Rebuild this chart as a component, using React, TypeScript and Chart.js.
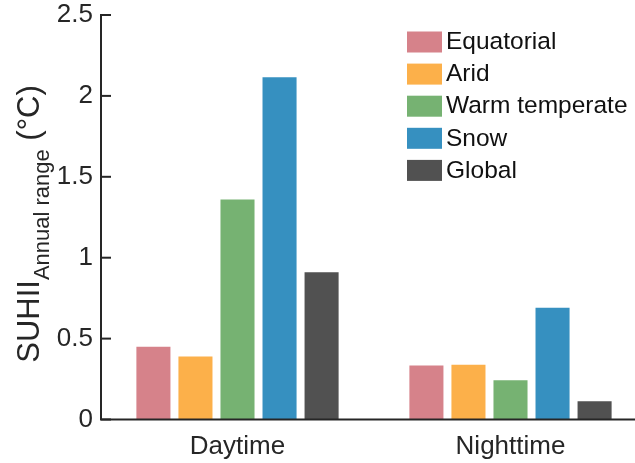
import React, { useEffect, useRef } from "react";
import { Chart, registerables } from "chart.js";

Chart.register(...registerables);

const categories = ["Daytime", "Nighttime"];
const seriesNames = ["Equatorial", "Arid", "Warm temperate", "Snow", "Global"];
const equatorial = [0.45, 0.333];
const arid = [0.39, 0.338];
const warmTemperate = [1.36, 0.243];
const snow = [2.115, 0.69];
const globalVals = [0.91, 0.113];
const seriesColors = ["#d6828a", "#fcb04a", "#76b272", "#3690c0", "#515151"];
const yTickValues = [0, 0.5, 1, 1.5, 2, 2.5];
const yTickLabels = ["0", "0.5", "1", "1.5", "2", "2.5"];

const FONT = "'Liberation Sans', Arial, Helvetica, sans-serif";
const INK = "#262626";

const axesPlugin = {
  id: "matlabAxes",
  afterDatasetsDraw(chart: any) {
    const { ctx, chartArea, scales } = chart;
    const y = scales.y;
    ctx.save();
    ctx.strokeStyle = INK;
    ctx.lineWidth = 2;
    ctx.beginPath();
    ctx.moveTo(chartArea.left, chartArea.top - 1);
    ctx.lineTo(chartArea.left, chartArea.bottom);
    ctx.lineTo(chart.width, chartArea.bottom);
    ctx.stroke();
    y.ticks.forEach((t: any) => {
      const py = y.getPixelForValue(t.value);
      ctx.beginPath();
      ctx.moveTo(chartArea.left, py);
      ctx.lineTo(chartArea.left + 10, py);
      ctx.stroke();
    });
    ctx.restore();
  },
};

const legendPlugin = {
  id: "boxLegend",
  afterDraw(chart: any) {
    const { ctx } = chart;
    ctx.save();
    ctx.font = `24.5px ${FONT}`;
    ctx.textBaseline = "middle";
    ctx.textAlign = "left";
    chart.data.datasets.forEach((ds: any, i: number) => {
      const top = 31.5 + i * 32.1;
      ctx.fillStyle = ds.backgroundColor;
      ctx.fillRect(407, top, 35, 21);
      ctx.fillStyle = "#111";
      ctx.fillText(ds.label, 446, top + 11);
    });
    ctx.restore();
  },
};

const titlePlugin = {
  id: "subTitle",
  afterDraw(chart: any) {
    const { ctx } = chart;
    const main = "SUHII";
    const sub = "Annual range";
    const unit = " (°C)";
    ctx.save();
    ctx.fillStyle = INK;
    ctx.textBaseline = "alphabetic";
    ctx.textAlign = "left";
    ctx.font = `31px ${FONT}`;
    const w1 = ctx.measureText(main).width;
    const w3 = ctx.measureText(unit).width;
    ctx.font = `22px ${FONT}`;
    const w2 = ctx.measureText(sub).width;
    const total = w1 + w2 + w3;
    ctx.translate(39, 224);
    ctx.rotate(-Math.PI / 2);
    const x0 = -total / 2;
    ctx.font = `31px ${FONT}`;
    ctx.fillText(main, x0, 0);
    ctx.font = `22px ${FONT}`;
    ctx.fillText(sub, x0 + w1, 10);
    ctx.font = `31px ${FONT}`;
    ctx.fillText(unit, x0 + w1 + w2, 0);
    ctx.restore();
  },
};

export default function App() {
  const ref = useRef<HTMLCanvasElement | null>(null);

  useEffect(() => {
    if (!ref.current) return;
    const series = [equatorial, arid, warmTemperate, snow, globalVals];
    const chart = new Chart(ref.current, {
      type: "bar",
      data: {
        labels: categories,
        datasets: series.map((vals, i) => ({
          label: seriesNames[i],
          data: vals,
          backgroundColor: seriesColors[i],
          borderWidth: 0,
          barPercentage: 0.81,
          categoryPercentage: 0.77,
        })),
      },
      options: {
        responsive: false,
        maintainAspectRatio: false,
        animation: false,
        devicePixelRatio: 1,
        layout: { padding: { top: 15, right: 3, left: 0, bottom: 0 } },
        plugins: {
          legend: { display: false },
          tooltip: { enabled: false },
          title: { display: false },
        },
        scales: {
          x: {
            type: "category",
            offset: true,
            grid: { display: false, drawTicks: false },
            border: { display: false },
            ticks: {
              color: INK,
              font: { family: FONT, size: 26 },
              padding: 12,
              maxRotation: 0,
              autoSkip: false,
            },
            afterFit: (s: any) => {
              s.height = 43.5;
              s.paddingLeft = 0;
              s.paddingRight = 0;
            },
          },
          y: {
            min: yTickValues[0],
            max: yTickValues[yTickValues.length - 1],
            grid: { display: false, drawTicks: false },
            border: { display: false },
            afterBuildTicks: (s: any) => {
              s.ticks = yTickValues.map((v) => ({ value: v }));
            },
            ticks: {
              color: INK,
              font: { family: FONT, size: 26 },
              padding: 8,
              callback: (v: any) => {
                const idx = yTickValues.indexOf(Number(v));
                return idx >= 0 ? yTickLabels[idx] : "";
              },
            },
            afterFit: (s: any) => {
              s.width = 101;
              s.paddingTop = 0;
              s.paddingBottom = 0;
            },
          },
        },
      },
      plugins: [axesPlugin, legendPlugin, titlePlugin],
    });
    return () => chart.destroy();
  }, []);

  return (
    <div
      style={{
        position: "absolute",
        left: 0,
        top: 0,
        width: 635,
        height: 463,
        overflow: "hidden",
        background: "#fff",
      }}
    >
      <canvas ref={ref} width={650} height={463} style={{ display: "block" }} />
    </div>
  );
}
